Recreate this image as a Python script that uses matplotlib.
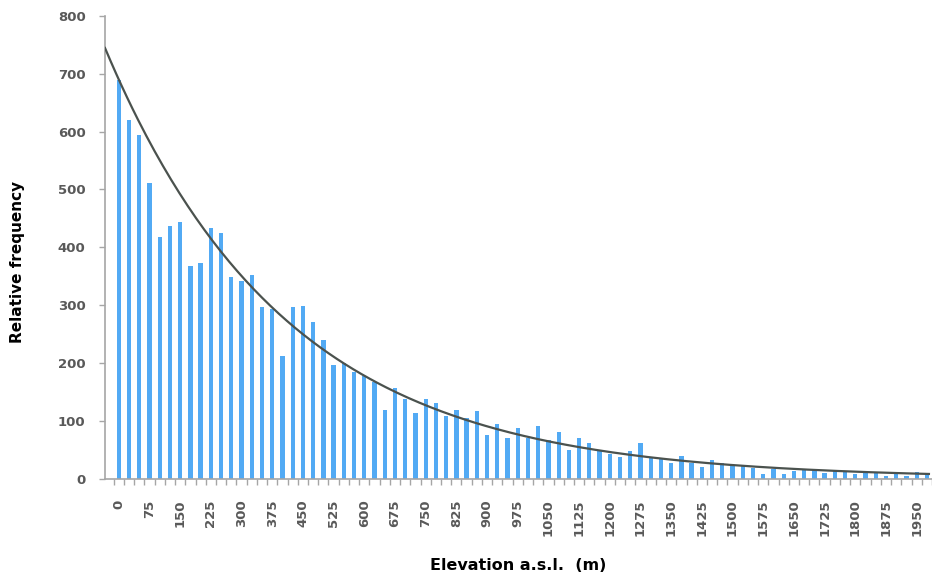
import matplotlib.pyplot as plt
import numpy as np

# elevation classes (m, lower bound of each 25 m bin)
ELEVATION = list(range(0, 2000, 25))

# relative frequency per class
FREQUENCY = [
    690, 620, 595, 512, 417, 437, 444, 368, 373, 434,
    425, 349, 341, 352, 296, 294, 212, 296, 298, 271,
    239, 197, 200, 184, 177, 167, 119, 157, 138, 113,
    137, 131, 108, 119, 105, 117, 76, 95, 70, 88,
    70, 91, 66, 80, 50, 70, 61, 50, 43, 38,
    47, 61, 36, 34, 27, 39, 27, 20, 32, 26,
    24, 21, 18, 7, 17, 7, 13, 16, 14, 9,
    14, 13, 7, 10, 9, 4, 9, 4, 11, 7,
]

# exponential trend line, y = A * exp(-K * class index)
TREND_A = 690
TREND_K = 0.0565

LABEL_STEP = 3
BAR_COLOR = "#52aaf4"
TREND_COLOR = "#4b524e"
AXIS_COLOR = "#a6a6a6"
TEXT_COLOR = "#595959"


def main():
    fig = plt.figure(figsize=(9.32, 5.79), dpi=100)
    ax = fig.add_axes([105 / 932, 1 - 478.5 / 579, 1 - 105 / 932, (478.5 - 16) / 579])

    idx = np.arange(len(ELEVATION))
    ax.bar(idx, FREQUENCY, width=0.42, color=BAR_COLOR, zorder=2)

    x_left, x_right = -1.35, 79.2
    xt = np.linspace(x_left, x_right, 300)
    ax.plot(xt, TREND_A * np.exp(-TREND_K * xt), color=TREND_COLOR, lw=1.6, zorder=3)

    ax.set_xlim(x_left, x_right)
    ax.set_ylim(0, 800)
    ax.set_yticks(range(0, 801, 100))

    ax.set_xticks(idx[::LABEL_STEP])
    ax.set_xticklabels([str(e) for e in ELEVATION[::LABEL_STEP]], rotation=90)
    ax.set_xticks(np.arange(-0.5, len(ELEVATION) + 0.5), minor=True)
    ax.tick_params(axis="x", which="major", length=0, pad=15,
                   labelsize=9.5, labelcolor=TEXT_COLOR)
    ax.tick_params(axis="x", which="minor", length=4, color=AXIS_COLOR, width=1)
    ax.tick_params(axis="y", length=4, color=AXIS_COLOR, width=1, pad=10,
                   labelsize=9.5, labelcolor=TEXT_COLOR)
    for lab in ax.get_xticklabels() + ax.get_yticklabels():
        lab.set_fontweight("bold")

    for side in ["top", "right"]:
        ax.spines[side].set_visible(False)
    for side in ["left", "bottom"]:
        ax.spines[side].set_color(AXIS_COLOR)
        ax.spines[side].set_linewidth(1.2)

    fig.text(18 / 932, 1 - 262 / 579, "Relative frequency", rotation=90,
             ha="center", va="center", fontsize=11, fontweight="bold")
    fig.text(518 / 932, 1 - 566 / 579, "Elevation a.s.l.  (m)",
             ha="center", va="center", fontsize=11.5, fontweight="bold")

    fig.savefig("out.png", dpi=100)
    plt.close(fig)


if __name__ == "__main__":
    main()
